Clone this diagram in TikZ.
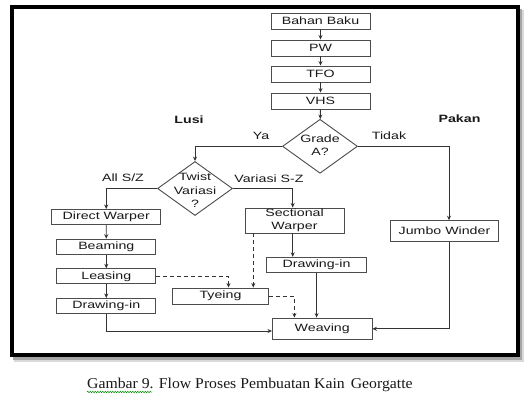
\documentclass[tikz,border=0pt]{standalone}
\usepackage{fontspec}
\newfontfamily\diagfont[FakeStretch=1.34]{Liberation Sans}
\newfontfamily\capfont[FakeStretch=1.05]{Liberation Serif}
\usetikzlibrary{arrows.meta,shapes.geometric,decorations.pathmorphing}
\begin{document}
\begin{tikzpicture}[x=1pt,y=-1pt,
  every node/.style={font=\diagfont\fontsize{10.6}{13.4}\selectfont, text=black!90},
  box/.style={draw=black!70, line width=0.9pt, rectangle, inner sep=0pt, minimum height=15pt, minimum width=99pt, align=center},
  dia/.style={draw=black!70, line width=0.9pt, diamond, inner sep=0pt, minimum width=75pt, minimum height=54pt},
  arr/.style={draw=black!80, line width=0.9pt, -{Stealth[length=4.5pt,width=4pt]}},
  darr/.style={arr, dash pattern=on 4pt off 3pt},
  lbl/.style={inner sep=0pt, align=center}
]
\useasboundingbox (0,0) rectangle (529,401);
\fill[white] (0,0) rectangle (529,401);
% frame with shadow
\fill[black!15] (14,10) rectangle (524,362);
\fill[black!35] (13,9) rectangle (522,360);
\fill[white] (10,5) rectangle (520,357);
\draw[line width=4pt] (12,7) rectangle (518,355);

% nodes
\node[box, minimum height=16pt] (bahan) at (320.5,21) {Bahan Baku};
\node[box, minimum height=16pt] (pw) at (320.5,48) {PW};
\node[box, minimum height=16pt] (tfo) at (320.5,74) {TFO};
\node[box, minimum height=16pt] (vhs) at (320.5,101) {VHS};
\node[dia] (grade) at (320,146.3) {};
\node[lbl] (gradetxt) at (320,145) {Grade\\A?};
\node[dia] (twist) at (195,188.5) {};
\node[lbl] (twisttxt) at (195,190.5) {Twist\\Variasi\\?};

\node[box, minimum width=109pt] (direct) at (106.2,217) {Direct Warper};
\node[box] (beaming) at (106.3,246.7) {Beaming};
\node[box] (leasing) at (106.3,276.3) {Leasing};
\node[box] (drawL) at (106.3,306) {Drawing-in};
\node[box, minimum height=25pt] (sect) at (294.5,220.5) {Sectional\\Warper};
\node[box, minimum width=107.6pt, minimum height=21pt] (jumbo) at (444.5,231.2) {Jumbo Winder};
\node[box, minimum width=99.6pt] (drawR) at (316.6,264.8) {Drawing-in};
\node[box, minimum width=96pt, minimum height=16pt] (tyeing) at (220.5,296) {Tyeing};
\node[box, minimum width=99.5pt, minimum height=21.5pt] (weaving) at (322.2,328.8) {Weaving};

% labels
\node[lbl, font=\diagfont\bfseries\fontsize{10.6}{13.4}\selectfont] (lusi) at (189,119.5) {Lusi};
\node[lbl, font=\diagfont\bfseries\fontsize{10.6}{13.4}\selectfont] (pakan) at (459.5,119) {Pakan};
\node[lbl] (ya) at (261,135.5) {Ya};
\node[lbl] (tidak) at (389,136) {Tidak};
\node[lbl] (allsz) at (123,178) {All S/Z};
\node[lbl] (varsz) at (269,179) {Variasi S-Z};

% connectors
\draw[arr] (bahan) -- (pw);
\draw[arr] (pw) -- (tfo);
\draw[arr] (tfo) -- (vhs);
\draw[arr] (vhs) -- (grade);
\draw[arr] (grade.west) -| (twist.north);
\draw[arr] (grade.east) -| ([xshift=4.5pt]jumbo.north);
\draw[arr] (twist.west) -| (direct.north);
\draw[arr] (twist.east) -| ([xshift=-1.8pt]sect.north);
\draw[arr] (direct) -- (beaming);
\draw[arr] (beaming) -- (leasing);
\draw[arr] (leasing) -- (drawL);
\coordinate (sa) at ([xshift=-1.8pt]sect.south);
\draw[arr] (sa) -- (sa |- drawR.north);
\draw[arr] (drawR.south) -- (drawR.south |- weaving.north);
\draw[arr] (drawL.south) |- ([yshift=-2.2pt]weaving.west);
\draw[arr] ([xshift=4.5pt]jumbo.south) |- (weaving.east);
\draw[darr] (leasing.east) -| ([xshift=8pt]tyeing.north);
\coordinate (sd) at ([xshift=-41.2pt]sect.south);
\draw[darr] (sd) -- (sd |- tyeing.north);
\draw[darr] (tyeing.east) -| ([xshift=-27.8pt]weaving.north);

% caption
\node[anchor=base west, inner sep=0pt, font=\capfont\fontsize{15}{18}\selectfont, text=black!90] (caption) at (87,388) {Gambar 9. Flow Proses Pembuatan Kain\hspace{2pt} Georgatte};
\draw[green!55!black, line width=0.5pt, decorate, decoration={snake, amplitude=0.7pt, segment length=2.5pt}] ([yshift=-4pt]caption.base west) -- ++(65,0);
\end{tikzpicture}
\end{document}
